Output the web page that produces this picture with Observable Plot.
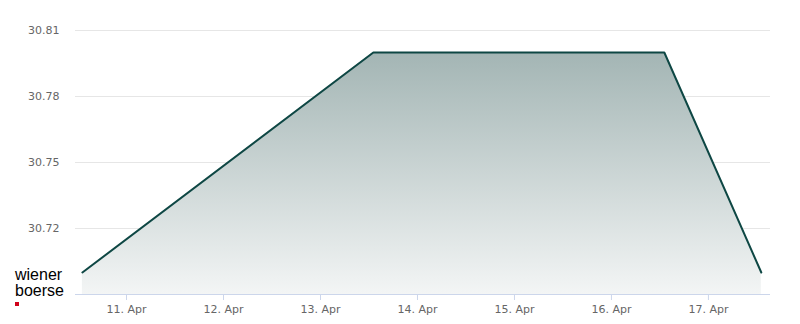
<!DOCTYPE html>
<html>
<head>
<meta charset="utf-8">
<script src="https://cdn.jsdelivr.net/npm/d3@7"></script>
<script src="https://cdn.jsdelivr.net/npm/@observablehq/plot@0.6"></script>
<style>
  html, body { margin: 0; padding: 0; background: #fff; }
  #wrap { position: relative; width: 800px; height: 324px; }
  #logo { position: absolute; left: 15px; top: 267px; font-family: "Liberation Sans", Arial, sans-serif; font-size: 16px; line-height: 16px; color: #000; }
  #logo .sq { position: absolute; left: 0; top: 35px; width: 4px; height: 4px; background: #d0021b; }
</style>
</head>
<body>
<div id="wrap">
  <div id="chart"></div>
  <div id="logo">wiener<br>boerse<div class="sq"></div></div>
</div>
<script>
const dates = ["2021-04-10T13:05:00Z", "2021-04-13T13:05:00Z", "2021-04-14T13:05:00Z", "2021-04-15T13:05:00Z", "2021-04-16T13:05:00Z", "2021-04-17T13:05:00Z"];
const prices = [30.70, 30.80, 30.80, 30.80, 30.80, 30.70];
const yTicks = [30.72, 30.75, 30.78, 30.81];
const xTicks = ["2021-04-11", "2021-04-12", "2021-04-13", "2021-04-14", "2021-04-15", "2021-04-16", "2021-04-17"];

const data = dates.map((d, i) => ({ date: new Date(d), price: prices[i] }));
const day = 86400000;
const xDomain = [new Date(Date.UTC(2021, 3, 10) + 0.474 * day), new Date(Date.UTC(2021, 3, 17) + 0.64 * day)];

const plot = Plot.plot({
  width: 800,
  height: 324,
  marginLeft: 75,
  marginRight: 30,
  marginTop: 30,
  marginBottom: 30,
  style: { fontFamily: "DejaVu Sans, sans-serif", fontSize: "11px", color: "#666", background: "#fff" },
  x: { type: "utc", domain: xDomain, label: null },
  y: { domain: [30.69, 30.81], label: null },
  marks: [
    Plot.gridY(yTicks, { stroke: "#e6e6e6", strokeOpacity: 1 }),
    Plot.areaY(data, { x: "date", y1: 30.69, y2: "price", fill: "url(#areaGrad)" }),
    Plot.lineY(data, { x: "date", y: "price", stroke: "#0e4744", strokeWidth: 2 }),
    Plot.ruleY([30.69], { stroke: "#ccd6eb" }),
    Plot.axisY(yTicks, { tickSize: 0, tickPadding: 16, tickFormat: d => d.toFixed(2), fill: "#666", label: null }),
    Plot.axisX(xTicks.map(d => new Date(d + "T00:00:00Z")), { tickSize: 6, tickPadding: 5, stroke: "#ccd6eb", tickFormat: d3.utcFormat("%-d. %b"), fill: "#666", label: null })
  ]
});

const svg = d3.select(plot);
const defs = svg.insert("defs", ":first-child");
const g = defs.append("linearGradient").attr("id", "areaGrad").attr("x1", 0).attr("y1", 0).attr("x2", 0).attr("y2", 1);
g.append("stop").attr("offset", "0%").attr("stop-color", "#a3b5b4");
g.append("stop").attr("offset", "100%").attr("stop-color", "#f3f5f5");

document.getElementById("chart").appendChild(plot);
</script>
</body>
</html>
